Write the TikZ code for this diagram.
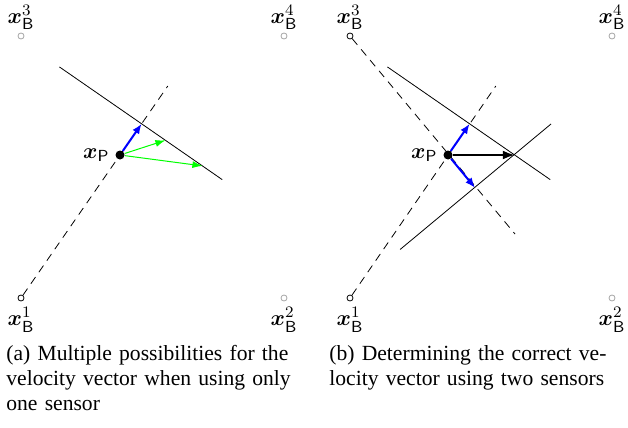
\documentclass[tikz,border=0pt,11pt]{standalone}
\usepackage{amsmath,amssymb}
\usepackage{fontspec}
\setmainfont{Liberation Serif}
\usetikzlibrary{arrows.meta,positioning,calc}
\definecolor{velblue}{RGB}{0,0,255}
\definecolor{velgreen}{RGB}{0,255,0}
\definecolor{idlegray}{RGB}{165,165,165}
\newcommand{\xB}[1]{\boldsymbol{x}_{\mathsf{B}}^{#1}}
\newcommand{\xP}{\boldsymbol{x}_{\mathsf{P}}}

\begin{document}
\begin{tikzpicture}[
    x=0.5pt, y=-0.5pt,
    sensor/.style={circle, draw=black, line width=0.4pt, inner sep=0pt, minimum size=3pt},
    idlesensor/.style={sensor, draw=idlegray},
    point/.style={circle, fill=black, inner sep=0pt, minimum size=4.5pt},
    ray/.style={dash pattern=on 4pt off 3pt, line width=0.4pt},
    wave/.style={line width=0.4pt},
    normvec/.style={-{Latex[length=5pt,width=4pt]}, velblue, line width=1pt},
    guessvec/.style={-{Latex[length=5pt,width=3.5pt]}, velgreen, line width=0.5pt},
    truevec/.style={-{Latex[length=6pt,width=4.5pt]}, black, line width=1pt},
    caption/.style={anchor=base west, text width=146.5pt, align=left, inner sep=0pt,
        font=\fontsize{10.8}{12.5}\selectfont}
]
\useasboundingbox (0,0) rectangle (628,428);

% (a) one sensor
\node[sensor, label={[label distance=-1pt]below:$\xB{1}$}] (a1) at (21,298) {};
\node[idlesensor, label={[label distance=-1pt]below:$\xB{2}$}] (a2) at (284,298) {};
\node[idlesensor, label={[label distance=-2.5pt]above:$\xB{3}$}] (a3) at (21,36) {};
\node[idlesensor, label={[label distance=-2.5pt]above:$\xB{4}$}] (a4) at (284,36) {};
\coordinate (ra) at (167.8,86);
\coordinate (na) at (141.6,123.8);
\coordinate (wa1) at (59.4,66.9);
\coordinate (wa2) at (222.2,179.6);
\coordinate (ga1) at (165.4,140.3);
\coordinate (ga2) at (202.4,165.9);
\draw[ray] (a1) -- (ra);
\draw[wave] (wa1) -- (wa2);
\node[point, label={[label distance=-1pt]left:$\xP$}] (pa) at (120,155) {};
\draw[normvec] (pa) -- (na);
\draw[guessvec] (pa) -- (ga1);
\draw[guessvec] (pa) -- (ga2);

% (b) two sensors
\node[sensor, label={[label distance=-1pt]below:$\xB{1}$}] (b1) at (350,298) {};
\node[idlesensor, label={[label distance=-1pt]below:$\xB{2}$}] (b2) at (612,298) {};
\node[sensor, label={[label distance=-2.5pt]above:$\xB{3}$}] (b3) at (350,36) {};
\node[idlesensor, label={[label distance=-2.5pt]above:$\xB{4}$}] (b4) at (612,36) {};
\coordinate (rb1) at (495.8,86);
\coordinate (rb3) at (515,234);
\coordinate (nb1) at (469.6,123.8);
\coordinate (nb3) at (475,187.8);
\coordinate (wb1) at (387.4,66.9);
\coordinate (wb2) at (550.2,179.6);
\coordinate (wb3) at (400.1,249.5);
\coordinate (wb4) at (551,124);
\coordinate (vb) at (514.8,155);
\draw[ray] (b1) -- (rb1);
\draw[ray] (b3) -- (rb3);
\draw[wave] (wb1) -- (wb2);
\draw[wave] (wb3) -- (wb4);
\node[point, label={[label distance=-1pt]left:$\xP$}] (pb) at (448,155) {};
\draw[normvec] (pb) -- (nb1);
\draw[normvec] (pb) -- (nb3);
\draw[truevec] (pb) -- (vb);

% captions
\node[caption] (capa) at (6,360) {\makebox[146.5pt][s]{(a) Multiple possibilities for the}\\
  \makebox[146.5pt][s]{velocity vector when using only}\\ one sensor};
\node[caption] (capb) at (329,360) {\makebox[146.5pt][s]{(b) Determining the correct ve-}\\
  \makebox[146.5pt][s]{locity vector using two sensors}};
\end{tikzpicture}
\end{document}
